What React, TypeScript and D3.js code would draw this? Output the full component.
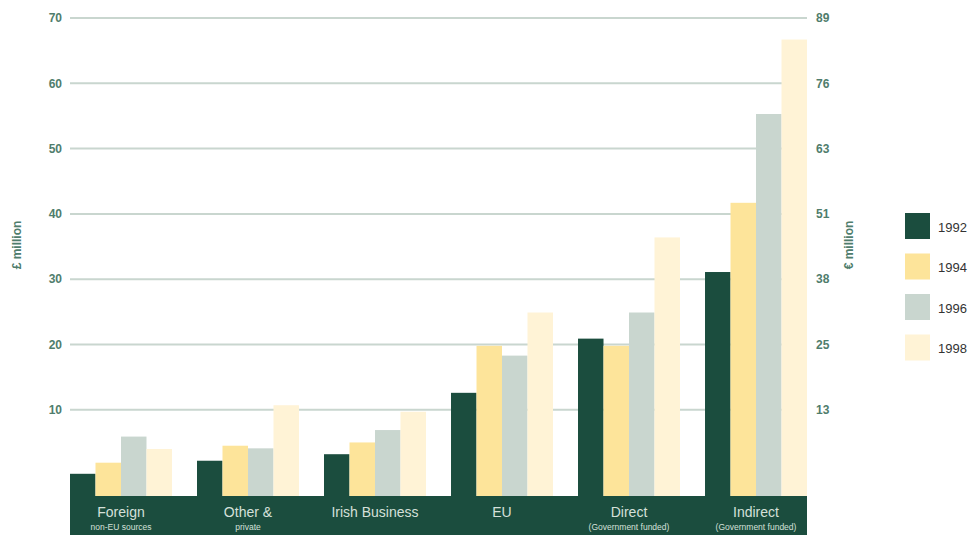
import React from "react";
import * as d3 from "d3";

const categories = ["Foreign", "Other &", "Irish Business", "EU", "Direct", "Indirect"];
const subLabels = ["non-EU sources", "private", "", "", "(Government funded)", "(Government funded)"];
const years = ["1992", "1994", "1996", "1998"];
const v1992 = [0.2, 2.2, 3.2, 12.6, 20.9, 31.1];
const v1994 = [1.9, 4.5, 5.0, 19.8, 19.8, 41.7];
const v1996 = [5.9, 4.1, 6.9, 18.3, 24.9, 55.3];
const v1998 = [4.0, 10.7, 9.7, 24.9, 36.4, 66.7];
const leftTicks = [10, 20, 30, 40, 50, 60, 70];
const rightTickLabels = ["13", "25", "38", "51", "63", "76", "89"];
const series = [v1992, v1994, v1996, v1998];
const colors = ["#1b4d3e", "#fde49a", "#c9d6cf", "#fff3d6"];

const W = 979;
const H = 535;
const plotLeft = 70;
const plotRight = 807;
const baseY = 496;
const topY = 18;
const baseValue = -3.2;

export default function App() {
  const x = d3.scaleBand<string>().domain(categories).range([plotLeft, plotRight]).paddingInner(0.197).paddingOuter(0);
  const xi = d3.scaleBand<string>().domain(years).range([0, x.bandwidth()]).padding(0);
  const y = d3.scaleLinear().domain([baseValue, 70]).range([baseY, topY]);
  const tickColor = "#4f7d6c";
  const font = "'Liberation Sans', Arial, sans-serif";

  return (
    <svg width={W} height={H} style={{ position: "absolute", left: 0, top: 0 }} fontFamily={font}>
      <rect x={0} y={0} width={W} height={H} fill="#ffffff" />
      {leftTicks.map((t, i) => (
        <g key={t}>
          <line x1={plotLeft} x2={plotRight} y1={y(t)} y2={y(t)} stroke="#c9d6cf" strokeWidth={2} />
          <text x={62} y={y(t)} dy="0.35em" textAnchor="end" fontSize={12} fontWeight="bold" fill={tickColor}>{t}</text>
          <text x={816} y={y(t)} dy="0.35em" textAnchor="start" fontSize={12} fontWeight="bold" fill={tickColor}>{rightTickLabels[i]}</text>
        </g>
      ))}
      <text transform={`translate(21,${245}) rotate(-90)`} textAnchor="middle" fontSize={12} fontWeight="bold" fill={tickColor}>£ million</text>
      <text transform={`translate(853,${245}) rotate(-90)`} textAnchor="middle" fontSize={12} fontWeight="bold" fill={tickColor}>€ million</text>
      {categories.map((c, ci) => (
        <g key={c} transform={`translate(${x(c)},0)`}>
          {years.map((yr, si) => (
            <rect key={yr} x={xi(yr)} width={xi.bandwidth()} y={y(series[si][ci])} height={y(baseValue) - y(series[si][ci])} fill={colors[si]} />
          ))}
        </g>
      ))}
      <rect x={plotLeft} y={baseY} width={plotRight - plotLeft} height={H - baseY} fill="#1b4d3e" />
      {categories.map((c, ci) => (
        <g key={c + "lbl"}>
          <text x={(x(c) as number) + x.bandwidth() / 2} y={517} textAnchor="middle" fontSize={14} fill="#d5e0da">{c}</text>
          {subLabels[ci] && (
            <text x={(x(c) as number) + x.bandwidth() / 2} y={530} textAnchor="middle" fontSize={8.5} fill="#d5e0da">{subLabels[ci]}</text>
          )}
        </g>
      ))}
      {years.map((yr, i) => (
        <g key={yr + "leg"} transform={`translate(905,${213 + i * 40.5})`}>
          <rect width={25} height={26} fill={colors[i]} />
          <text x={33} y={14} dy="0.35em" fontSize={13} fill="#333333">{yr}</text>
        </g>
      ))}
    </svg>
  );
}
